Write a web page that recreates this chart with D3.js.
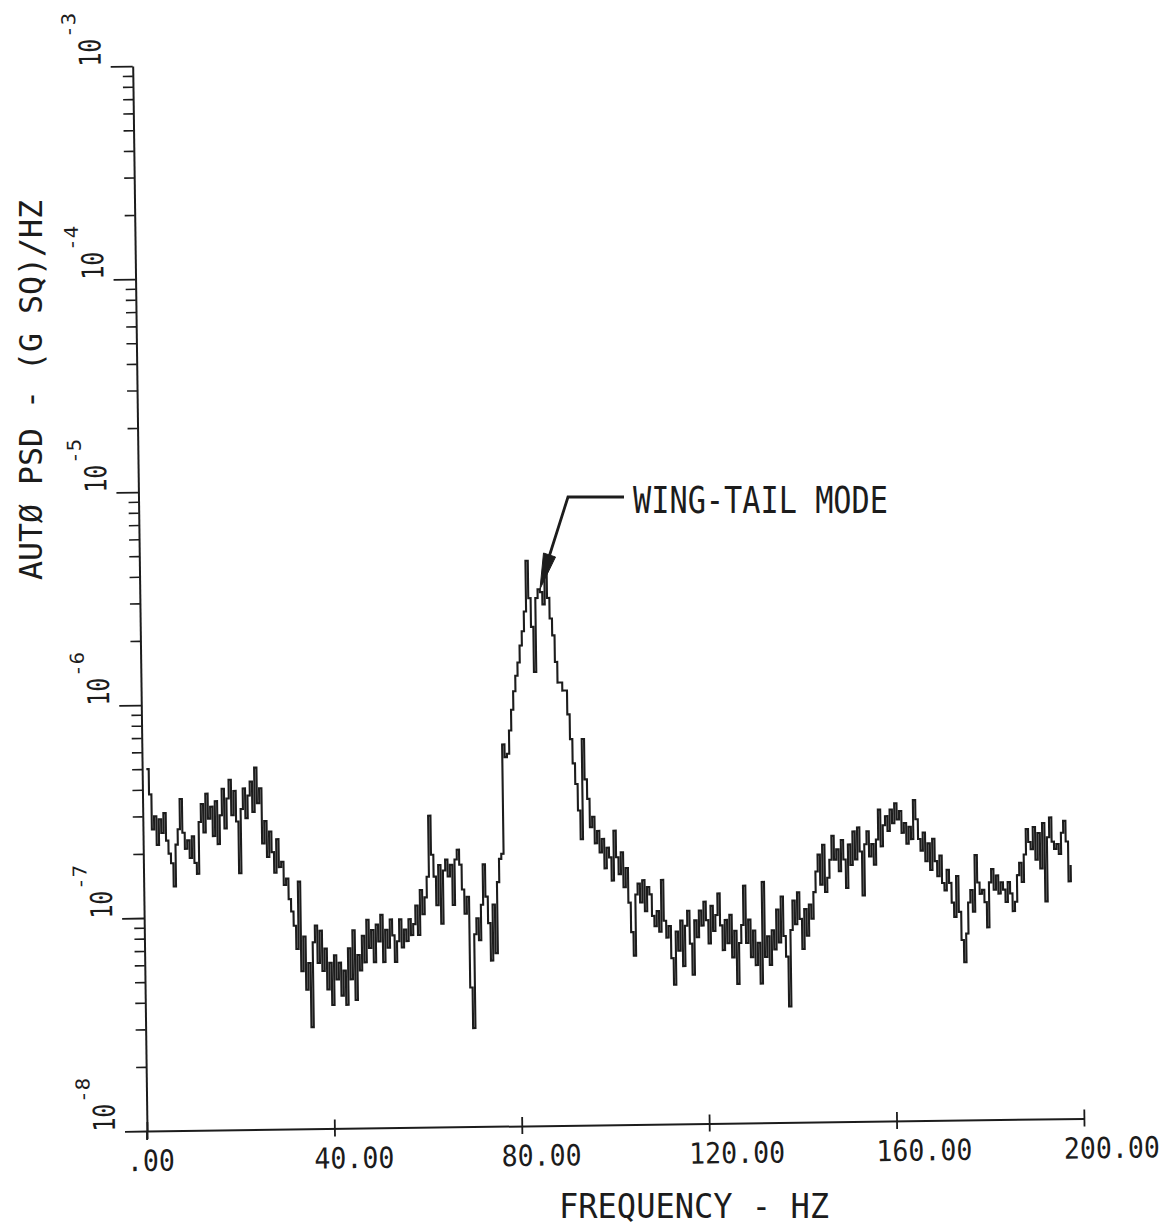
<!DOCTYPE html>
<html>
<head>
<meta charset="utf-8">
<script src="https://cdnjs.cloudflare.com/ajax/libs/d3/7.8.5/d3.min.js"></script>
<style>
  body { margin: 0; background: #fff; }
  svg text { font-family: "DejaVu Sans Mono", "Liberation Mono", monospace; fill: #1c1c1c; }
</style>
</head>
<body>
<svg id="chart" width="1170" height="1228"></svg>
<script>
// auto PSD: one line every 0.5 Hz starting at ~0.9 Hz, values in units of 1e-7 (G SQ)/HZ
var f0 = 0.9, df = 0.5, unit = 1e-7;
var psd = [
    5.0, 3.8, 2.6, 3.0, 2.2, 2.9, 2.5, 3.1, 2.3, 2.0, 1.8, 1.4, 2.2, 2.6, 3.6, 2.5, 2.1, 2.3, 1.9, 2.4,
    1.8, 1.6, 2.8, 3.4, 2.5, 3.8, 2.9, 3.3, 2.4, 3.5, 2.2, 3.0, 4.0, 2.6, 3.6, 4.4, 3.0, 3.9, 2.8, 1.6,
    3.2, 4.0, 2.9, 3.7, 4.3, 3.1, 5.0, 3.4, 4.0, 2.2, 2.8, 1.9, 2.5, 2.0, 1.6, 2.3, 1.7, 1.8, 1.4, 1.5,
    1.2, 1.05, 0.9, 0.7, 1.45, 0.55, 0.8, 0.45, 0.6, 0.3, 0.75, 0.9, 0.6, 0.85, 0.55, 0.7, 0.45, 0.6, 0.38, 0.65,
    0.5, 0.6, 0.42, 0.55, 0.38, 0.7, 0.5, 0.85, 0.4, 0.65, 0.55, 0.8, 0.6, 0.95, 0.7, 0.85, 0.6, 0.9, 0.75, 1.0,
    0.6, 0.85, 0.7, 0.95, 0.8, 0.6, 0.75, 0.95, 0.7, 0.85, 0.75, 0.95, 0.8, 0.9, 1.1, 0.8, 1.3, 1.0, 1.2, 1.5,
    2.9, 1.9, 1.5, 1.1, 1.7, 0.9, 1.6, 1.8, 1.5, 1.7, 1.1, 1.8, 2.0, 1.7, 1.3, 1.0, 1.2, 0.45, 0.29, 0.8,
    0.95, 0.75, 1.1, 1.7, 1.2, 0.9, 0.6, 1.1, 0.65, 1.4, 1.8, 1.9, 6.2, 5.4, 5.6, 7.2, 9.0, 11, 13, 15,
    18, 21, 26, 45, 30, 22, 13.5, 30, 33, 32, 28, 40, 30, 24, 20, 15, 12, 12, 11, 11,
    8.5, 6.5, 5.0, 4.0, 3.0, 2.2, 6.5, 4.2, 3.4, 2.5, 2.8, 2.1, 2.4, 1.9, 2.2, 1.6, 2.0, 1.8, 1.4, 2.4,
    1.8, 1.5, 1.9, 1.3, 1.6, 1.1, 0.8, 0.62, 1.2, 1.35, 1.1, 1.4, 1.0, 1.3, 1.2, 0.95, 0.85, 1.0, 0.8, 1.4,
    0.9, 0.75, 0.85, 0.6, 0.45, 0.8, 0.65, 0.9, 0.55, 0.85, 1.0, 0.7, 0.5, 0.9, 0.75, 1.0, 0.85, 1.1, 0.9, 0.7,
    1.05, 0.8, 0.95, 1.2, 0.85, 0.65, 0.9, 0.7, 0.95, 0.6, 0.8, 0.45, 0.7, 0.85, 1.3, 0.7, 0.9, 0.6, 0.8, 0.55,
    0.7, 0.45, 1.35, 0.6, 0.75, 0.55, 0.8, 0.65, 1.0, 0.7, 1.15, 0.75, 0.6, 0.35, 0.8, 1.1, 0.85, 1.2, 0.9, 0.65,
    1.0, 0.75, 1.05, 0.9, 1.2, 1.5, 1.8, 1.3, 2.0, 1.2, 1.4, 1.7, 2.2, 1.7, 1.9, 1.5, 2.1, 1.7, 1.25, 2.0,
    1.6, 2.3, 1.7, 2.4, 1.85, 1.15, 2.0, 2.3, 1.75, 2.0, 1.6, 2.1, 2.9, 1.95, 2.45, 2.7, 2.3, 2.9, 2.5, 3.1,
    2.6, 2.85, 2.25, 2.5, 2.0, 2.4, 2.1, 3.2, 2.6, 2.1, 1.85, 2.25, 1.65, 2.0, 1.5, 2.1, 1.65, 1.4, 1.75, 1.3,
    1.2, 1.5, 1.3, 1.05, 0.9, 1.4, 0.95, 0.7, 0.55, 0.75, 1.05, 1.2, 0.95, 1.75, 1.3, 1.15, 1.2, 1.05, 0.8, 1.3,
    1.5, 1.2, 1.4, 1.15, 1.3, 1.2, 1.05, 1.3, 1.15, 0.95, 1.05, 1.4, 1.6, 1.3, 1.75, 2.3, 2.0, 1.85, 2.35, 1.65,
    2.2, 1.5, 2.45, 1.05, 2.1, 2.6, 2.0, 1.85, 1.95, 1.75, 2.2, 2.5, 2.0, 1.3, 1.55
];

var xTicks = [0, 40, 80, 120, 160, 200];
var xTickLabels = [".00", "40.00", "80.00", "120.00", "160.00", "200.00"];
var decades = [-8, -7, -6, -5, -4, -3];
var xTitle = "FREQUENCY - HZ";
var yTitle = "AUTØ PSD - (G SQ)/HZ";
var note = "WING-TAIL MODE";

var ink = "#1c1c1c";
var svg = d3.select("#chart");

// the scanned plot sits a little crooked, so the whole frame is turned about the origin
var plot = svg.append("g").attr("transform", "rotate(-0.77,147,1131)");

var x = d3.scaleLinear().domain([0, 200]).range([147, 1084]);
var y = d3.scaleLog().domain([1e-8, 1e-3]).range([1131, 66]);

// x axis, ticks cross the line, labels start left of the tick
var xAxis = plot.append("g")
    .attr("transform", "translate(0,1131)")
    .call(d3.axisBottom(x)
        .tickValues(xTicks)
        .tickSizeOuter(0)
        .tickFormat(function(d, i) { return xTickLabels[i]; }));
xAxis.attr("font-size", null).attr("font-family", null);
xAxis.select(".domain").attr("stroke", ink).attr("stroke-width", 2);
xAxis.selectAll(".tick line").attr("stroke", ink).attr("stroke-width", 1.8).attr("y1", -9).attr("y2", 8);
xAxis.selectAll(".tick text")
    .attr("fill", ink)
    .attr("text-anchor", "start")
    .attr("x", -21)
    .attr("y", 40)
    .attr("dy", null)
    .attr("font-size", 29)
    .attr("textLength", function(d, i) { return xTickLabels[i].length * 16; })
    .attr("lengthAdjust", "spacingAndGlyphs");

// y axis: minor ticks 2..9 in every decade, longer ticks on the decades
var minorVals = [];
decades.slice(0, -1).forEach(function(e) {
    for (var k = 2; k <= 9; k++) minorVals.push(k * Math.pow(10, e));
});
var yMinor = plot.append("g")
    .attr("transform", "translate(147,0)")
    .call(d3.axisLeft(y).tickValues(minorVals).tickSize(10).tickSizeOuter(0).tickFormat(""));
yMinor.select(".domain").attr("stroke", ink).attr("stroke-width", 2);
yMinor.selectAll(".tick line").attr("stroke", ink).attr("stroke-width", 1.6);

var yMajor = plot.append("g")
    .attr("transform", "translate(147,0)")
    .call(d3.axisLeft(y).tickValues(decades.map(function(e) { return Math.pow(10, e); }))
        .tickSize(22).tickSizeOuter(0).tickFormat(""));
yMajor.select(".domain").remove();
yMajor.selectAll(".tick line").attr("stroke", ink).attr("stroke-width", 1.8);

// the vertical line runs a bit under the x axis
plot.append("line")
    .attr("x1", 147).attr("x2", 147)
    .attr("y1", y(1e-8)).attr("y2", y(1e-8) + 9)
    .attr("stroke", ink).attr("stroke-width", 2);

// decade labels, written sideways
var yLab = plot.selectAll(".ylab")
    .data(decades)
    .enter().append("g")
    .attr("class", "ylab")
    .attr("transform", function(d) { return "translate(115," + y(Math.pow(10, d)) + ") rotate(-90)"; });
yLab.append("text")
    .attr("x", 0).attr("y", 0)
    .attr("font-size", 30)
    .attr("textLength", 28)
    .attr("lengthAdjust", "spacingAndGlyphs")
    .text("10");
yLab.append("text")
    .attr("x", 29).attr("y", -25)
    .attr("font-size", 19)
    .attr("textLength", 25)
    .attr("lengthAdjust", "spacingAndGlyphs")
    .text(function(d) { return "-" + (-d); });

// the spectrum
var line = d3.line()
    .x(function(d, i) { return x(f0 + i * df); })
    .y(function(d) { return y(d * unit); })
    .curve(d3.curveStepAfter);

plot.append("path")
    .datum(psd)
    .attr("d", line)
    .attr("fill", "none")
    .attr("stroke", ink)
    .attr("stroke-width", 2.1)
    .attr("stroke-linejoin", "miter");

// axis titles
svg.append("text")
    .attr("transform", "translate(42,580) rotate(-90)")
    .attr("font-size", 32)
    .attr("textLength", 380)
    .attr("lengthAdjust", "spacingAndGlyphs")
    .text(yTitle);

svg.append("text")
    .attr("x", 559).attr("y", 1218)
    .attr("font-size", 34)
    .attr("textLength", 270)
    .attr("lengthAdjust", "spacingAndGlyphs")
    .text(xTitle);

// mode callout
svg.append("text")
    .attr("x", 633).attr("y", 513)
    .attr("font-size", 38)
    .attr("textLength", 255)
    .attr("lengthAdjust", "spacingAndGlyphs")
    .text(note);

svg.append("path")
    .attr("d", "M624,497 L568,497 L549,557")
    .attr("fill", "none")
    .attr("stroke", ink)
    .attr("stroke-width", 2.8);
svg.append("path")
    .attr("d", "M540,589 L543.5,553 L555.5,557 Z")
    .attr("fill", ink)
    .attr("stroke", ink)
    .attr("stroke-width", 1);
</script>
</body>
</html>
